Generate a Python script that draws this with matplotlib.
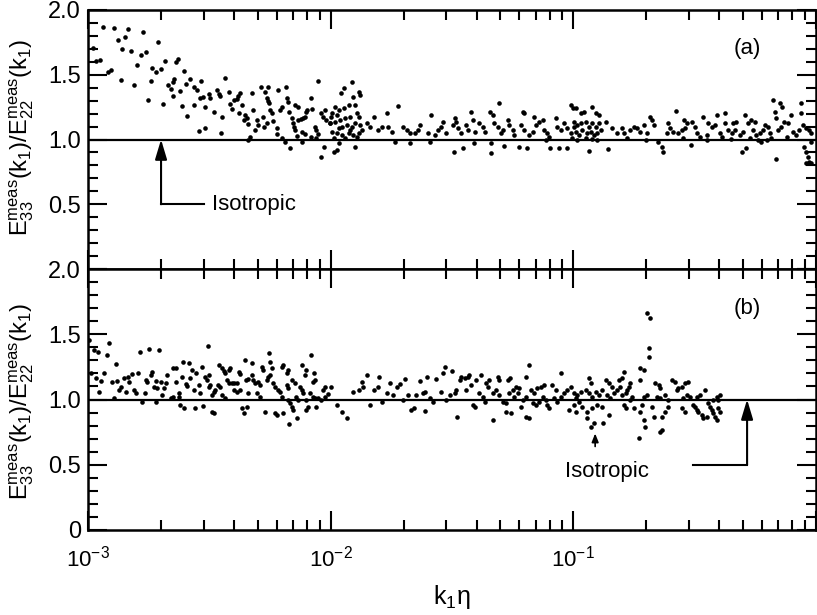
import numpy as np
import matplotlib.pyplot as plt
from matplotlib.ticker import MultipleLocator, FixedLocator, LogLocator, NullFormatter

plt.rcParams['font.family'] = ['Liberation Sans', 'DejaVu Sans']
plt.rcParams['mathtext.fontset'] = 'custom'
plt.rcParams['mathtext.rm'] = 'Liberation Sans'
plt.rcParams['mathtext.it'] = 'Liberation Sans'
plt.rcParams['mathtext.default'] = 'regular'

# panel (a): log10(k1*eta) and E33/E22
top_logk = [
    -2.940, -2.892, -2.837, -2.773, -2.878, -2.848, -2.980, -2.858, -2.821, -2.783,
    -2.762, -2.710, -2.967, -2.797, -2.683, -2.639, -2.628, -2.735, -2.721, -2.700,
    -2.605, -2.919, -2.906, -2.865, -2.810, -2.742, -2.646, -2.650, -2.669, -2.660,
    -2.650, -2.619, -2.598, -2.578, -2.564, -2.550, -2.533, -2.751, -2.690, -2.612,
    -2.591, -2.564, -2.537, -2.527, -2.516, -2.544, -2.516, -2.503, -2.496, -2.482,
    -2.469, -2.462, -2.455, -2.434, -2.448, -2.451, -2.421, -2.414, -2.407, -2.400,
    -2.387, -2.380, -2.373, -2.366, -2.377, -2.352, -2.345, -2.359, -2.339, -2.325,
    -2.318, -2.332, -2.339, -2.304, -2.298, -2.311, -2.287, -2.270, -2.277, -2.263,
    -2.259, -2.254, -2.257, -2.250, -2.243, -2.263, -2.273, -2.236, -2.223, -2.216,
    -2.209, -2.202, -2.202, -2.189, -2.186, -2.182, -2.175, -2.172, -2.168, -2.161,
    -2.154, -2.150, -2.148, -2.145, -2.134, -2.134, -2.123, -2.113, -2.107, -2.120,
    -2.107, -2.120, -2.100, -2.096, -2.079, -2.076, -2.066, -2.059, -2.052, -2.052,
    -2.038, -2.031, -2.025, -2.018, -2.038, -2.027, -2.004, -1.997, -2.951, -2.080,
    -2.060, -2.140, -2.220, -1.913, -1.947, -1.956, -1.910, -1.885, -1.878, -1.899,
    -1.981, -1.967, -1.947, -1.926, -1.995, -1.974, -1.892, -1.885, -2.001, -1.981,
    -1.960, -1.940, -1.919, -1.953, -1.933, -1.913, -1.899, -1.878, -1.995, -1.974,
    -1.953, -1.926, -1.906, -1.885, -1.872, -1.988, -1.940, -1.892, -1.967, -1.919,
    -1.988, -1.974, -1.967, -1.899, -1.851, -1.837, -1.820, -1.803, -1.790, -1.769,
    -1.762, -1.749, -1.721, -1.735, -1.701, -1.687, -1.674, -1.674, -1.653, -1.639,
    -1.633, -1.598, -1.587, -1.592, -1.571, -1.557, -1.544, -1.537, -1.523, -1.492,
    -1.496, -1.482, -1.475, -1.489, -1.462, -1.455, -1.441, -1.434, -1.423, -1.414,
    -1.407, -1.410, -1.387, -1.373, -1.366, -1.342, -1.332, -1.339, -1.339, -1.325,
    -1.311, -1.305, -1.298, -1.291, -1.284, -1.270, -1.264, -1.250, -1.243, -1.223,
    -1.209, -1.202, -1.216, -1.202, -1.189, -1.182, -1.168, -1.161, -1.155, -1.141,
    -1.127, -1.120, -1.107, -1.100, -1.113, -1.096, -1.073, -1.066, -1.059, -1.052,
    -1.039, -1.025, -1.011, -0.997, -1.011, -1.000, -1.025, -0.990, -0.970, -0.956,
    -0.925, -0.908, -0.895, -0.997, -0.984, -0.970, -0.949, -0.936, -0.922, -0.908,
    -0.895, -0.990, -0.977, -0.963, -0.943, -0.929, -0.915, -0.902, -0.888, -1.004,
    -0.984, -0.949, -0.922, -0.902, -0.867, -0.936, -0.857, -0.840, -0.820, -0.799,
    -0.792, -0.765, -0.751, -0.738, -0.724, -0.710, -0.697, -0.684, -0.677, -0.666,
    -0.652, -0.636, -0.629, -0.608, -0.602, -0.588, -0.577, -0.615, -0.567, -0.553,
    -0.540, -0.542, -0.533, -0.512, -0.499, -0.515, -0.492, -0.478, -0.465, -0.451,
    -0.444, -0.430, -0.417, -0.406, -0.396, -0.389, -0.373, -0.376, -0.362, -0.348,
    -0.335, -0.342, -0.328, -0.315, -0.301, -0.307, -0.287, -0.294, -0.280, -0.266,
    -0.253, -0.260, -0.246, -0.232, -0.219, -0.240, -0.225, -0.212, -0.199, -0.191,
    -0.184, -0.178, -0.168, -0.164, -0.150, -0.141, -0.164, -0.157, -0.144, -0.130,
    -0.116, -0.103, -0.096, -0.082, -0.068, -0.062, -0.062, -0.055, -0.041, -0.048,
    -0.041, -0.034, -0.027, -0.020, -0.041, -0.027, -0.020, -0.020, -0.780, -0.700,
    -0.550, -0.450, -0.350, -0.270, -0.200, -0.120,
]
top_ratio = [
    1.866, 1.863, 1.856, 1.830, 1.768, 1.794, 1.710, 1.696, 1.683, 1.653,
    1.673, 1.750, 1.609, 1.575, 1.606, 1.600, 1.620, 1.550, 1.524, 1.544,
    1.529, 1.524, 1.537, 1.459, 1.421, 1.454, 1.467, 1.446, 1.421, 1.388,
    1.336, 1.377, 1.429, 1.467, 1.403, 1.382, 1.454, 1.305, 1.274, 1.261,
    1.181, 1.266, 1.323, 1.331, 1.254, 1.068, 1.086, 1.351, 1.318, 1.215,
    1.382, 1.351, 1.336, 1.472, 1.171, 1.052, 1.369, 1.272, 1.236, 1.305,
    1.310, 1.336, 1.361, 1.266, 1.202, 1.189, 1.164, 1.151, 1.120, 1.357,
    1.228, 1.022, 0.996, 1.151, 1.112, 1.073, 1.403, 1.369, 1.176, 1.318,
    1.300, 1.279, 1.408, 1.228, 1.202, 1.125, 1.099, 1.145, 1.086, 1.382,
    1.228, 1.254, 1.009, 0.983, 1.408, 1.318, 1.292, 1.215, 0.932, 1.164,
    1.125, 1.099, 1.073, 1.266, 1.254, 1.151, 1.156, 1.164, 1.176, 1.060,
    1.042, 0.983, 1.215, 1.228, 1.323, 1.236, 1.099, 1.073, 1.042, 1.454,
    1.202, 1.176, 1.228, 1.151, 0.867, 0.944, 1.125, 1.176, 1.614, 1.020,
    1.010, 1.030, 1.040, 1.446, 1.395, 1.357, 1.331, 1.369, 1.344, 1.266,
    1.254, 1.228, 1.241, 1.266, 1.202, 1.189, 1.202, 1.176, 1.125, 1.138,
    1.151, 1.164, 1.176, 1.099, 1.112, 1.099, 1.125, 1.112, 1.060, 1.048,
    1.035, 1.048, 1.035, 1.048, 1.073, 1.009, 1.009, 1.017, 1.086, 1.073,
    0.906, 0.919, 0.970, 0.944, 1.125, 1.099, 1.171, 1.073, 1.099, 1.202,
    1.099, 1.060, 1.259, 0.983, 1.099, 1.073, 1.048, 0.970, 1.048, 1.073,
    1.112, 1.048, 1.189, 0.983, 1.035, 1.073, 1.099, 1.138, 1.048, 0.906,
    1.112, 1.138, 1.086, 1.164, 1.048, 0.932, 1.112, 1.073, 1.215, 1.151,
    1.060, 0.970, 1.125, 1.099, 1.060, 1.215, 1.189, 0.970, 0.898, 1.125,
    1.099, 1.279, 1.048, 1.073, 0.950, 1.151, 1.112, 1.073, 1.035, 0.944,
    1.215, 1.202, 1.112, 1.073, 0.932, 1.035, 1.060, 1.176, 1.112, 1.138,
    1.151, 1.073, 1.048, 1.022, 0.996, 0.932, 1.164, 1.099, 0.932, 1.073,
    1.125, 1.086, 1.048, 1.099, 1.266, 1.241, 0.932, 1.241, 1.202, 1.215,
    1.254, 1.202, 1.189, 1.138, 1.112, 1.125, 1.138, 1.099, 1.125, 1.099,
    1.125, 1.060, 1.035, 1.073, 1.048, 1.060, 1.035, 1.048, 1.073, 1.009,
    0.996, 1.009, 1.002, 0.996, 1.138, 0.914, 0.924, 1.086, 1.048, 1.086,
    1.048, 1.073, 1.099, 1.086, 1.060, 1.112, 1.048, 1.176, 1.151, 1.112,
    0.983, 0.944, 0.906, 1.125, 1.086, 1.060, 1.220, 1.048, 1.048, 1.073,
    1.086, 1.151, 1.125, 1.138, 1.099, 0.958, 1.048, 1.022, 1.171, 1.035,
    1.125, 1.099, 1.112, 1.189, 1.048, 1.022, 1.208, 1.125, 1.073, 1.048,
    1.073, 1.125, 1.138, 1.035, 1.060, 0.906, 0.932, 1.189, 1.125, 1.151,
    1.138, 1.073, 1.035, 1.048, 1.073, 0.996, 0.983, 1.112, 1.099, 1.048,
    1.009, 1.305, 1.215, 1.164, 1.279, 1.254, 0.847, 1.073, 1.099, 1.138,
    1.125, 1.189, 1.060, 1.035, 1.073, 1.282, 1.204, 1.112, 1.086, 0.944,
    0.906, 0.867, 0.829, 0.816, 0.816, 1.073, 1.048, 0.983, 1.010, 1.000,
    1.010, 1.000, 1.005, 1.010, 1.000, 1.020,
]

# panel (b)
bot_logk = [
    -2.995, -2.974, -2.960, -2.913, -2.923, -2.885, -2.933, -2.988, -2.967, -2.947,
    -2.954, -2.902, -2.882, -2.872, -2.865, -2.892, -2.851, -2.837, -2.831, -2.844,
    -2.817, -2.810, -2.803, -2.792, -2.787, -2.776, -2.765, -2.760, -2.756, -2.749,
    -2.742, -2.735, -2.728, -2.714, -2.721, -2.721, -2.700, -2.708, -2.694, -2.687,
    -2.680, -2.674, -2.660, -2.650, -2.650, -2.636, -2.639, -2.626, -2.626, -2.619,
    -2.605, -2.612, -2.609, -2.598, -2.591, -2.585, -2.578, -2.571, -2.557, -2.564,
    -2.560, -2.544, -2.537, -2.530, -2.527, -2.516, -2.509, -2.500, -2.505, -2.496,
    -2.500, -2.489, -2.482, -2.475, -2.489, -2.482, -2.462, -2.464, -2.455, -2.448,
    -2.441, -2.434, -2.421, -2.414, -2.448, -2.434, -2.428, -2.421, -2.407, -2.400,
    -2.387, -2.400, -2.387, -2.373, -2.377, -2.373, -2.366, -2.359, -2.345, -2.355,
    -2.350, -2.339, -2.339, -2.325, -2.325, -2.318, -2.311, -2.298, -2.291, -2.304,
    -2.291, -2.284, -2.277, -2.270, -2.263, -2.257, -2.250, -2.254, -2.250, -2.243,
    -2.236, -2.229, -2.229, -2.223, -2.216, -2.209, -2.202, -2.202, -2.195, -2.195,
    -2.182, -2.175, -2.182, -2.175, -2.175, -2.168, -2.161, -2.154, -2.172, -2.161,
    -2.148, -2.141, -2.134, -2.137, -2.127, -2.120, -2.113, -2.120, -2.107, -2.100,
    -2.100, -2.093, -2.100, -2.079, -2.086, -2.072, -2.066, -2.072, -2.066, -2.059,
    -2.069, -2.052, -2.038, -2.025, -2.031, -2.025, -1.997, -2.010, -1.974, -1.953,
    -1.933, -1.906, -1.885, -1.872, -1.865, -1.851, -1.837, -1.820, -1.803, -1.800,
    -1.790, -1.769, -1.755, -1.742, -1.728, -1.714, -1.694, -1.701, -1.680, -1.667,
    -1.656, -1.650, -1.633, -1.619, -1.612, -1.612, -1.601, -1.592, -1.578, -1.564,
    -1.544, -1.537, -1.530, -1.523, -1.500, -1.510, -1.489, -1.482, -1.478, -1.469,
    -1.462, -1.448, -1.434, -1.441, -1.420, -1.428, -1.414, -1.407, -1.400, -1.382,
    -1.387, -1.373, -1.366, -1.359, -1.352, -1.346, -1.332, -1.332, -1.318, -1.305,
    -1.311, -1.305, -1.291, -1.277, -1.277, -1.257, -1.270, -1.260, -1.264, -1.250,
    -1.243, -1.229, -1.236, -1.223, -1.216, -1.209, -1.195, -1.195, -1.182, -1.195,
    -1.182, -1.175, -1.161, -1.148, -1.168, -1.155, -1.141, -1.134, -1.120, -1.127,
    -1.113, -1.107, -1.100, -1.086, -1.073, -1.079, -1.066, -1.052, -1.052, -1.039,
    -1.025, -1.011, -1.018, -0.997, -0.990, -0.997, -0.984, -0.970, -0.990, -0.977,
    -0.936, -0.929, -0.949, -0.936, -0.922, -0.908, -0.895, -0.881, -0.963, -0.943,
    -0.922, -0.902, -0.881, -0.943, -0.929, -0.915, -0.879, -0.867, -0.854, -0.840,
    -0.861, -0.847, -0.833, -0.820, -0.806, -0.854, -0.813, -0.799, -0.792, -0.799,
    -0.785, -0.779, -0.772, -0.765, -0.792, -0.785, -0.765, -0.758, -0.751, -0.724,
    -0.724, -0.710, -0.697, -0.684, -0.687, -0.690, -0.710, -0.697, -0.717, -0.724,
    -0.707, -0.704, -0.731, -0.676, -0.669, -0.663, -0.649, -0.642, -0.656, -0.642,
    -0.622, -0.608, -0.636, -0.622, -0.608, -0.636, -0.642, -0.594, -0.581, -0.567,
    -0.574, -0.553, -0.540, -0.526, -0.547, -0.533, -0.519, -0.553, -0.540, -0.506,
    -0.499, -0.492, -0.492, -0.478, -0.485, -0.471, -0.465, -0.451, -0.458, -0.444,
    -0.437, -0.430, -0.423, -0.417, -0.410, -0.423, -0.410, -0.403, -0.396, -0.403,
    -0.396,
]
bot_ratio = [
    1.456, 1.379, 1.366, 1.435, 1.341, 1.270, 1.205, 1.201, 1.162, 1.144,
    1.060, 1.136, 1.142, 1.073, 1.093, 1.014, 1.162, 1.170, 1.136, 1.060,
    1.195, 1.073, 1.047, 1.201, 1.362, 0.983, 1.047, 1.149, 1.136, 1.385,
    1.188, 1.213, 1.098, 1.086, 0.983, 1.142, 1.136, 1.379, 1.034, 1.086,
    1.124, 1.188, 1.009, 1.021, 1.239, 1.239, 1.136, 1.021, 1.047, 0.958,
    0.933, 1.175, 1.290, 1.119, 1.101, 1.277, 1.162, 1.226, 1.205, 1.073,
    0.933, 1.111, 1.047, 1.251, 0.950, 1.175, 1.149, 1.188, 1.410, 1.111,
    1.093, 1.034, 1.060, 1.073, 0.907, 0.899, 1.264, 1.111, 1.093, 1.239,
    1.221, 1.201, 1.226, 1.239, 1.034, 1.009, 1.149, 1.124, 1.124, 1.129,
    1.124, 1.073, 1.060, 1.073, 1.213, 1.195, 0.933, 0.894, 0.940, 1.303,
    1.149, 1.155, 1.047, 1.282, 1.188, 1.149, 1.124, 1.136, 1.111, 1.047,
    1.021, 1.251, 1.226, 0.907, 1.149, 1.175, 1.188, 1.354, 1.290, 1.239,
    1.124, 1.098, 0.894, 0.881, 1.073, 1.060, 1.021, 1.251, 1.264, 0.894,
    1.201, 1.226, 1.111, 1.086, 0.996, 0.971, 0.945, 0.920, 0.812, 1.149,
    1.124, 1.021, 0.996, 0.856, 1.098, 1.073, 1.047, 1.264, 1.188, 1.226,
    0.996, 0.945, 0.920, 1.341, 1.047, 1.021, 1.009, 1.136, 1.149, 0.945,
    1.205, 1.009, 0.996, 1.021, 1.073, 1.093, 1.098, 1.040, 0.958, 0.907,
    0.856, 1.060, 1.073, 1.136, 1.098, 1.188, 0.958, 1.073, 1.098, 1.175,
    0.983, 1.047, 1.124, 1.034, 1.098, 1.119, 1.155, 0.996, 1.034, 0.920,
    0.933, 1.034, 1.144, 1.047, 1.060, 0.914, 1.175, 1.009, 0.983, 1.155,
    1.060, 1.201, 1.251, 0.996, 1.221, 1.034, 1.047, 1.073, 0.868, 1.149,
    1.175, 1.162, 1.175, 1.073, 1.111, 1.188, 0.958, 0.945, 1.149, 1.188,
    1.047, 1.021, 0.983, 1.124, 1.098, 1.149, 0.843, 1.047, 1.073, 1.034,
    1.175, 1.149, 0.983, 0.971, 0.907, 0.894, 1.149, 1.162, 1.047, 1.073,
    1.021, 1.047, 1.098, 1.086, 0.945, 0.996, 1.021, 0.868, 0.856, 1.175,
    1.264, 1.073, 1.047, 1.086, 0.971, 0.958, 0.983, 1.098, 1.111, 1.021,
    0.996, 0.958, 0.933, 1.111, 1.073, 1.009, 0.983, 1.021, 1.205, 1.047,
    1.073, 1.098, 0.920, 0.958, 0.907, 1.047, 1.034, 1.060, 1.009, 0.983,
    1.162, 1.124, 1.073, 1.047, 1.021, 1.060, 1.034, 1.073, 0.945, 0.907,
    0.933, 0.958, 0.945, 0.856, 0.792, 0.818, 0.818, 1.149, 1.124, 1.098,
    1.034, 1.009, 1.047, 1.073, 1.098, 0.881, 1.149, 1.162, 1.213, 1.034,
    1.047, 1.073, 1.098, 1.124, 0.958, 0.933, 0.996, 1.021, 0.933, 1.149,
    1.239, 1.226, 1.660, 1.622, 1.392, 1.328, 1.021, 1.034, 0.958, 0.907,
    0.843, 0.792, 0.707, 0.945, 0.868, 1.124, 1.111, 1.086, 1.021, 1.009,
    1.034, 0.996, 0.868, 0.907, 0.945, 0.766, 0.753, 1.149, 1.136, 1.086,
    1.073, 1.098, 1.124, 1.136, 1.009, 1.034, 1.021, 0.933, 0.907, 0.958,
    0.945, 0.920, 1.021, 1.034, 0.907, 0.881, 0.856, 0.868, 1.073, 0.971,
    0.945, 0.920, 0.894, 0.868, 0.843, 0.996, 1.021, 0.996, 1.034, 0.933,
    0.907,
]

x_major = [1e-3, 1e-2, 1e-1, 1.0]
x_labels = ['$10^{-3}$', '$10^{-2}$', '$10^{-1}$', '']
y_major = [0, 0.5, 1.0, 1.5, 2.0]
top_ylabels = ['', '0.5', '1.0', '1.5', '2.0']
bot_ylabels = ['0', '0.5', '1.0', '1.5', '2.0']

W, H = 817, 615
fig = plt.figure(figsize=(W / 100, H / 100), dpi=100)
ax_a = fig.add_axes([88 / W, 1 - 269 / H, 728 / W, 259 / H])
ax_b = fig.add_axes([88 / W, 1 - 530 / H, 728 / W, 261 / H])


def style(ax, ylabels):
    ax.set_xscale('log')
    ax.set_xlim(1e-3, 1.0)
    ax.set_ylim(0, 2)
    ax.xaxis.set_major_locator(FixedLocator(x_major))
    ax.xaxis.set_minor_locator(LogLocator(base=10, subs=np.arange(2, 10), numticks=20))
    ax.xaxis.set_minor_formatter(NullFormatter())
    ax.set_xticklabels(x_labels)
    ax.set_yticks(y_major)
    ax.set_yticklabels(ylabels)
    ax.yaxis.set_minor_locator(MultipleLocator(0.1))
    ax.tick_params(which='both', direction='in', top=True, right=True, width=1.5)
    ax.tick_params(which='major', length=14)
    ax.tick_params(which='minor', length=7)
    ax.tick_params(axis='y', labelsize=17, pad=5)
    ax.tick_params(axis='x', labelsize=16, pad=11)
    for s in ax.spines.values():
        s.set_linewidth(1.8)
    ax.axhline(1.0, color='black', lw=1.6, zorder=1)


style(ax_a, top_ylabels)
style(ax_b, bot_ylabels)
ax_a.tick_params(labelbottom=False)

ax_a.plot(10.0 ** np.array(top_logk), top_ratio, 'o', ms=3.3, color='black', mec='none')
ax_b.plot(10.0 ** np.array(bot_logk), bot_ratio, 'o', ms=3.3, color='black', mec='none')

head = dict(arrowstyle='-|>,head_length=0.6,head_width=0.18', color='black',
            lw=1.5, mutation_scale=20, shrinkA=0, shrinkB=0)

# isotropic markers
ax_a.annotate('', xy=(2e-3, 1.0), xytext=(2e-3, 0.5), arrowprops=head)
ax_a.plot([2e-3, 3.0e-3], [0.5, 0.5], color='black', lw=1.5)
ax_a.text(3.25e-3, 0.5, 'Isotropic', ha='left', va='center', fontsize=16)
ax_a.text(0.52, 1.70, '(a)', ha='center', va='center', fontsize=16)

ax_b.annotate('', xy=(0.52, 1.0), xytext=(0.52, 0.5), arrowprops=head)
ax_b.plot([0.31, 0.52], [0.5, 0.5], color='black', lw=1.5)
ax_b.text(0.092, 0.445, 'Isotropic', ha='left', va='center', fontsize=16)
ax_b.text(0.52, 1.70, '(b)', ha='center', va='center', fontsize=16)
ax_b.annotate('', xy=(0.123, 0.74), xytext=(0.123, 0.64),
              arrowprops=dict(arrowstyle='-|>,head_length=0.5,head_width=0.2',
                              color='black', lw=1.2, mutation_scale=10,
                              shrinkA=0, shrinkB=0))

ylab = r'$E_{33}^{meas}(k_1)/E_{22}^{meas}(k_1)$'
fig.text(22 / W, 1 - 138 / H, ylab, rotation=90, ha='center', va='center', fontsize=17)
fig.text(22 / W, 1 - 402 / H, ylab, rotation=90, ha='center', va='center', fontsize=17)
fig.text(452 / W, 1 - 597 / H, 'k$_1$η', ha='center', va='center', fontsize=18)

fig.savefig('out.png', dpi=100)
